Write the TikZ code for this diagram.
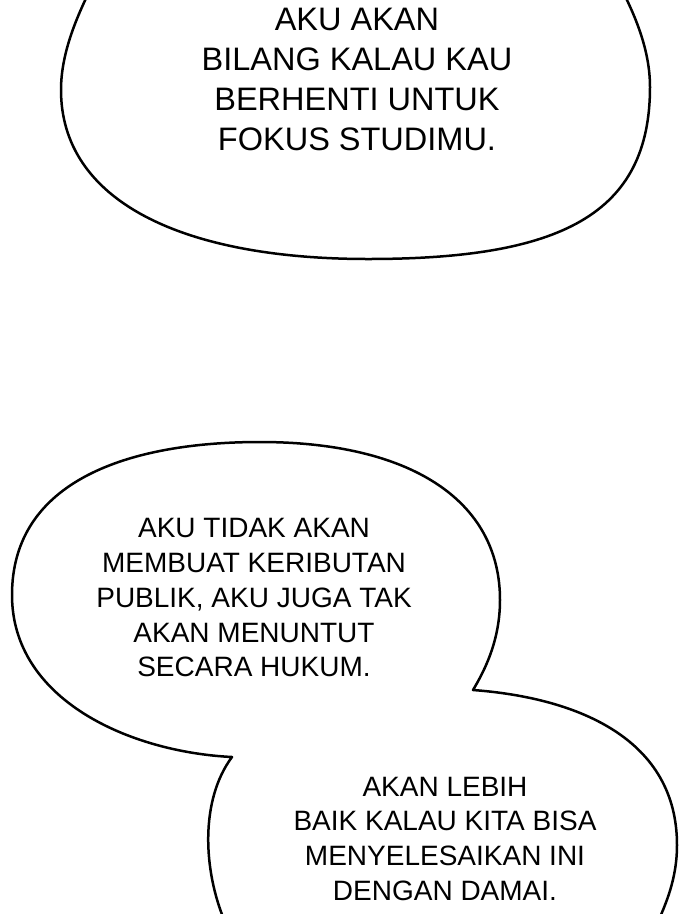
\documentclass[tikz,border=0pt]{standalone}
\usepackage{fontspec}
\setmainfont{Liberation Sans}
\begin{document}
\begin{tikzpicture}[x=1pt,y=-1pt,
  bubble/.style={line width=2.5pt,line join=round,line cap=round},
  say/.style={align=center,inner sep=0pt,anchor=north}]
  \useasboundingbox (0,0) rectangle (700,914);
  \clip (0,0) rectangle (700,914);
  \draw[bubble] (92,-14) .. controls (75,20) and (61,55) .. (61,90)
    .. controls (61,200) and (180,259) .. (368,259)
    .. controls (560,259) and (650,215) .. (650,87)
    .. controls (650,50) and (635,15) .. (620,-14);
  \draw[bubble] (225,922) .. controls (203,870) and (200,800) .. (232,757)
    .. controls (130,752) and (12,700) .. (12,595)
    .. controls (12,480) and (130,442) .. (260,442)
    .. controls (410,442) and (500,500) .. (500,600)
    .. controls (500,640) and (485,670) .. (473,690)
    .. controls (580,698) and (677,740) .. (677,845)
    .. controls (677,880) and (665,905) .. (658,922);
  \node[say,font=\fontsize{32.5}{40}\selectfont] (studi) at (357,8.3)
    {AKU AKAN\\BILANG KALAU KAU\\BERHENTI UNTUK\\FOKUS STUDIMU.};
  \node[say,font=\fontsize{28}{34.8}\selectfont] (hukum) at (254,518.3)
    {AKU TIDAK AKAN\\MEMBUAT KERIBUTAN\\PUBLIK, AKU JUGA TAK\\AKAN MENUNTUT\\SECARA HUKUM.};
  \node[say,font=\fontsize{28}{34.8}\selectfont] (damai) at (445,776.7)
    {AKAN LEBIH\\BAIK KALAU KITA BISA\\MENYELESAIKAN INI\\DENGAN DAMAI.};
\end{tikzpicture}
\end{document}
